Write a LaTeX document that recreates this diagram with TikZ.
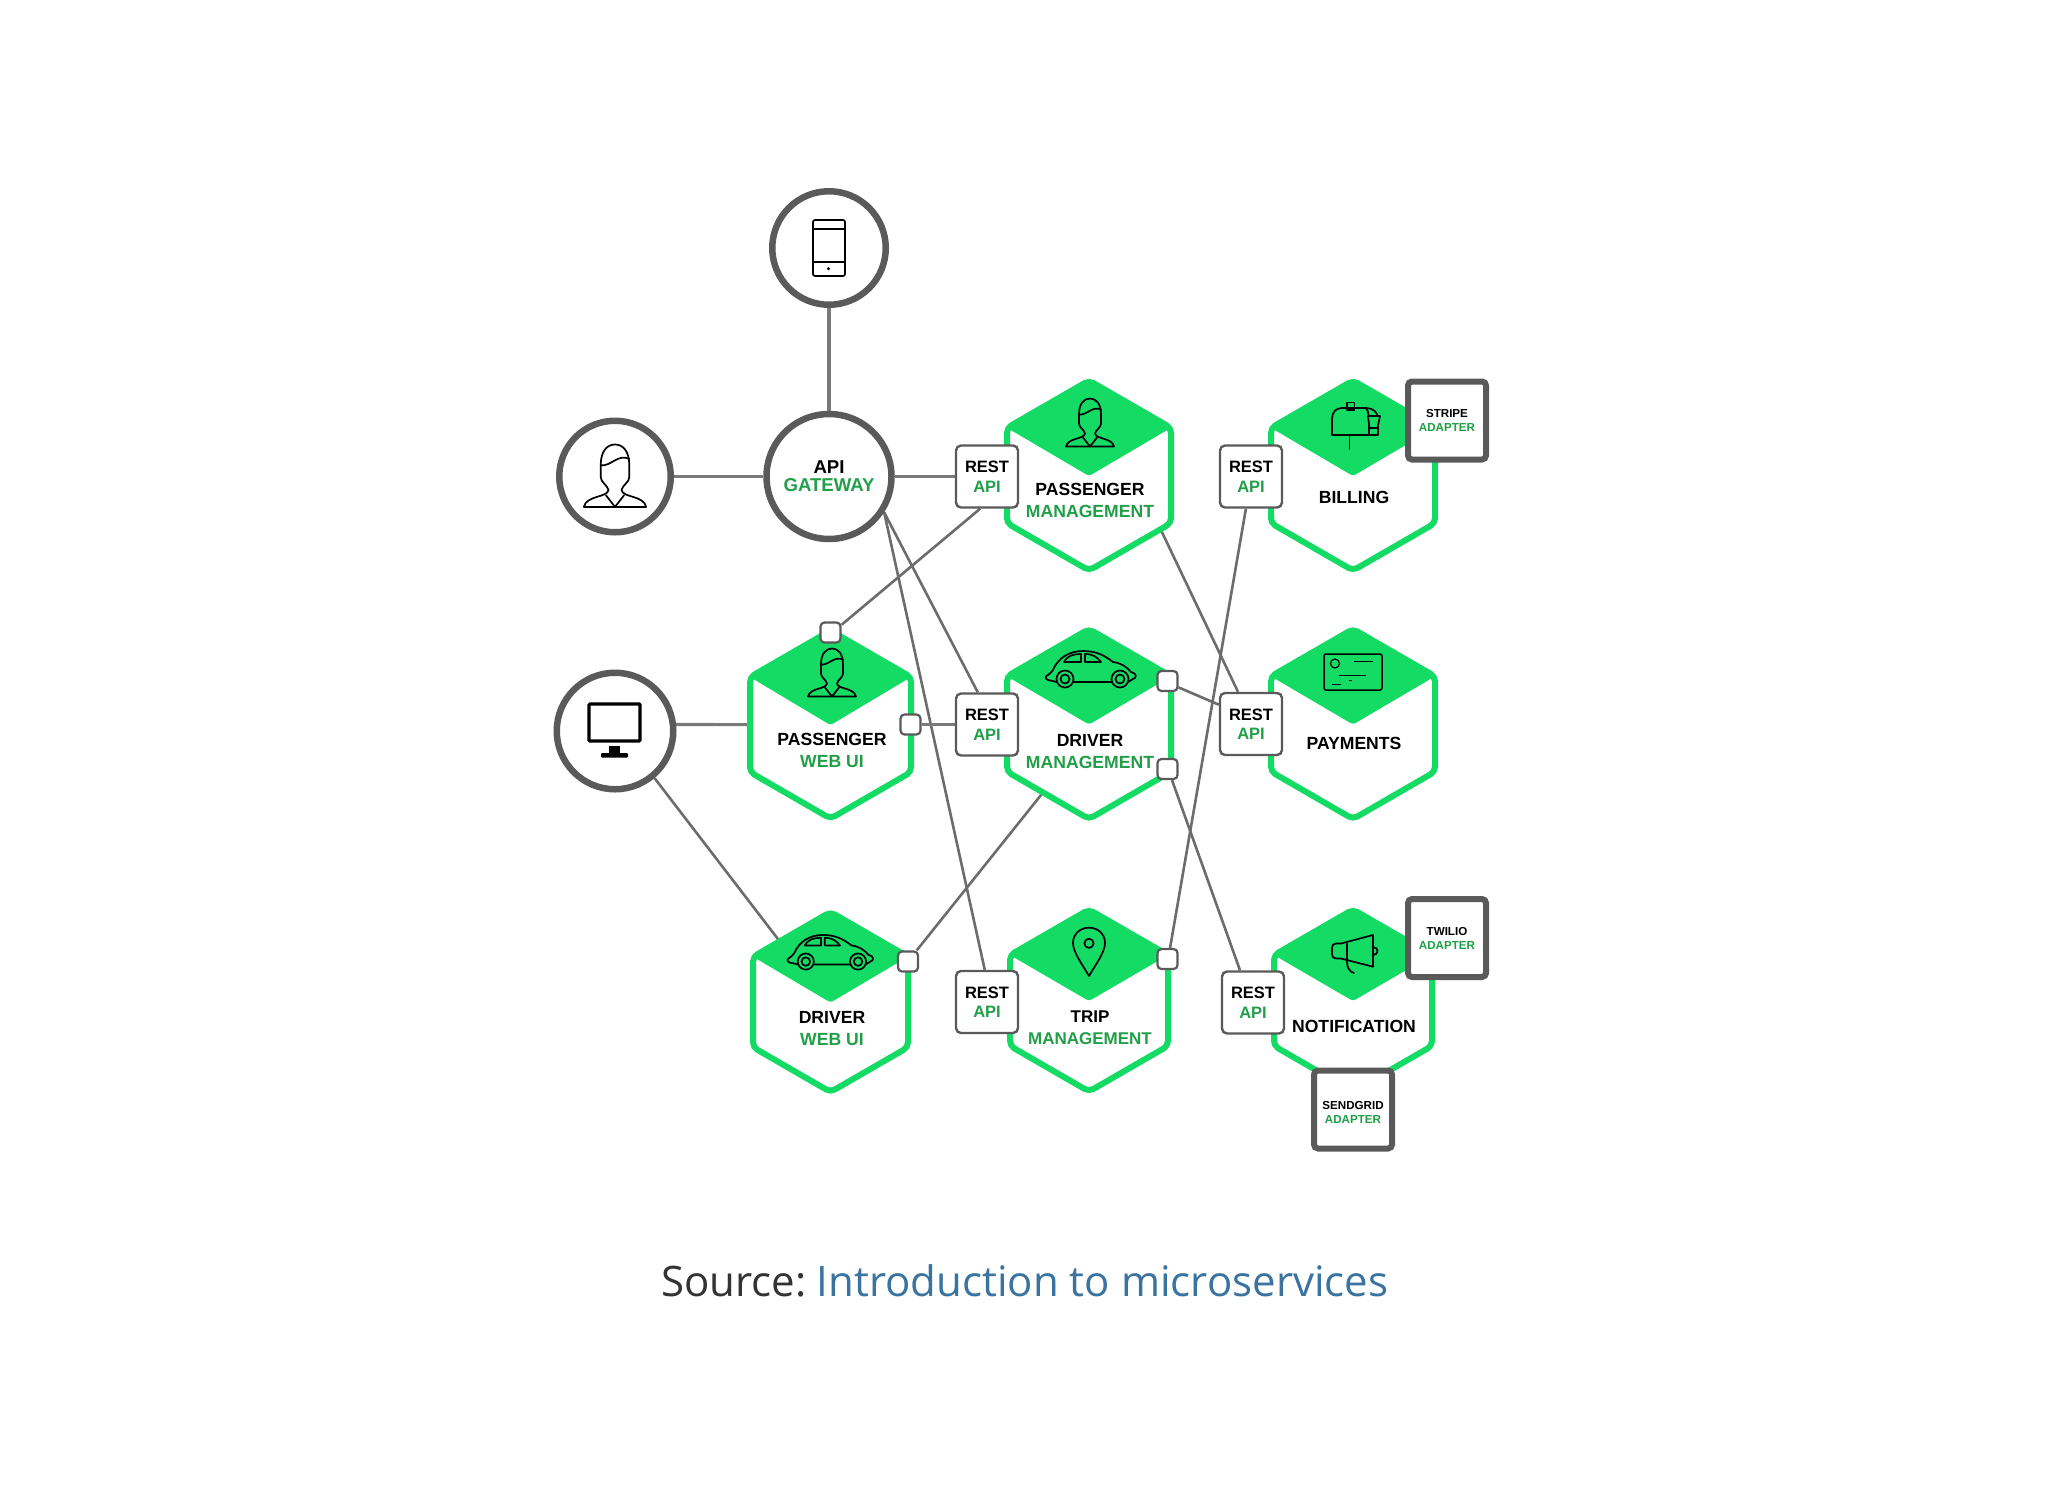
\documentclass[tikz,border=0pt]{standalone}
\usepackage{fontspec}
\setmainfont{Liberation Sans}
\newfontfamily\captionfont{Open Sans}
\usetikzlibrary{backgrounds,shapes.geometric}
\definecolor{hexgreen}{HTML}{14DB64}
\definecolor{labelgreen}{HTML}{209F48}
\definecolor{ringgray}{HTML}{5A5A5A}
\definecolor{wiregray}{HTML}{6C6C6C}
\definecolor{trunkgray}{HTML}{7A7A7A}
\definecolor{linkblue}{HTML}{3B73A0}
\definecolor{sourcegray}{HTML}{333333}
\tikzset{
  ring/.style={circle,draw=ringgray,line width=6.5pt,fill=white,inner sep=0pt},
  wire/.style={draw=wiregray,line width=2.6pt},
  trunk/.style={draw=trunkgray,line width=3.2pt},
  restbox/.style={rectangle,rounded corners=5pt,draw=ringgray,line width=2.4pt,fill=white,
    minimum width=62pt,minimum height=62pt,inner sep=0pt,align=center,
    font=\fontsize{16.5}{19.5}\selectfont\bfseries},
  portbox/.style={rectangle,rounded corners=4pt,draw=ringgray,line width=2.2pt,fill=white,
    minimum width=20pt,minimum height=20pt,inner sep=0pt},
  adapterbox/.style={rectangle,rounded corners=4pt,draw=ringgray,line width=6pt,fill=white,
    minimum width=78pt,minimum height=78pt,inner sep=0pt,align=center,
    font=\fontsize{11.6}{14}\selectfont\bfseries},
  hexlabel/.style={inner sep=0pt,align=center,font=\fontsize{17.6}{22}\selectfont\bfseries},
  hexframe/.style={rectangle,inner sep=0pt},
  icon/.style={draw=black,line width=1.7pt,line join=round,line cap=round}
}
\newcommand{\api}[1]{\textcolor{labelgreen}{#1}}
\newcommand{\servicehex}[5]{
  \filldraw[draw=hexgreen,fill=white,line width=6pt,rounded corners=5pt]
    (#2,#3-#5) -- (#2+#4,#3-#5+0.577*#4) -- (#2+#4,#3+#5-0.577*#4) -- (#2,#3+#5)
    -- (#2-#4,#3+#5-0.577*#4) -- (#2-#4,#3-#5+0.577*#4) -- cycle;
  \fill[hexgreen,rounded corners=3pt]
    (#2,#3-#5) -- (#2+#4,#3-#5+0.577*#4) -- (#2,#3+0.5) -- (#2-#4,#3-#5+0.577*#4) -- cycle;
  \node[hexframe,minimum width=2*#4 pt,minimum height=2*#5 pt] (#1) at (#2,#3) {};
}
\newcommand{\personicon}[3]{
  \begin{scope}[shift={(#1,#2)},scale=#3]
    \draw[icon] (-11,-9) .. controls (-11,-20) and (-6,-25) .. (0,-25)
      .. controls (6,-25) and (11,-20) .. (11,-9) -- (11,0)
      .. controls (11,4) and (6,6) .. (5,10) .. controls (6,16) and (22,14) .. (24,23)
      -- (-24,23) .. controls (-22,14) and (-6,16) .. (-5,10)
      .. controls (-6,6) and (-11,4) .. (-11,0) -- cycle;
    \draw[icon] (-11,-9) .. controls (-3,-8) and (2,-18) .. (11,-14);
    \draw[icon] (-7,14) -- (0,23) -- (7,14);
  \end{scope}
}
\newcommand{\caricon}[3]{
  \begin{scope}[shift={(#1,#2)},scale=#3]
    \draw[icon] (-34,12) -- (-43,10) .. controls (-46,9) and (-46,6) .. (-43,5)
      .. controls (-41,3) and (-39,2) .. (-38,0) .. controls (-33,-12) and (-22,-19) .. (-8,-19)
      .. controls (5,-19) and (13,-15) .. (22,-8) .. controls (30,-7) and (36,-3) .. (40,2)
      .. controls (46,3) and (46,8) .. (42,9) -- (37,12) -- cycle;
    \draw[icon] (-27,-8) .. controls (-25,-12) and (-21,-16) .. (-10,-16) -- (-10,-8) -- cycle;
    \draw[icon] (-6,-8) -- (-6,-16) .. controls (2,-16) and (6,-13) .. (10,-8) -- cycle;
    \filldraw[icon,fill=hexgreen] (-26,9) circle[radius=8.5];
    \draw[icon] (-26,9) circle[radius=4.5];
    \filldraw[icon,fill=hexgreen] (29,9) circle[radius=8.5];
    \draw[icon] (29,9) circle[radius=4.5];
  \end{scope}
}
\begin{document}
\begin{tikzpicture}[x=1pt,y=-1pt]
  \useasboundingbox (0,0) rectangle (2048,1492);
  \servicehex{pm}{1089}{475.5}{82}{95}
  \servicehex{bill}{1353}{475.5}{82}{95}
  \servicehex{dm}{1089}{724}{82}{95}
  \servicehex{pay}{1353}{724}{82}{95}
  \servicehex{pw}{830.5}{724.6}{80.5}{94}
  \servicehex{dw}{830.5}{1002}{77.5}{90}
  \servicehex{trip}{1089}{1000.5}{79}{91}
  \servicehex{notif}{1353}{1000.5}{79}{91}

  \node[ring,minimum size=113.5pt] (mobile) at (829,248) {};
  \node[ring,minimum size=125pt,align=center,font=\fontsize{18.6}{18}\selectfont\bfseries] (gateway) at (829,476.5) {API\\\api{GATEWAY}};
  \node[ring,minimum size=111.5pt] (user) at (615,476.5) {};
  \node[ring,minimum size=116.5pt] (desktop) at (615,731) {};

  \node[hexlabel] (pmtext) at (1090,500) {PASSENGER\\\api{MANAGEMENT}};
  \node[hexlabel] (billtext) at (1354,497) {BILLING};
  \node[hexlabel] (dmtext) at (1090,752) {DRIVER\\\api{MANAGEMENT}};
  \node[hexlabel] (paytext) at (1354,743) {PAYMENTS};
  \node[hexlabel] (pwtext) at (832,750) {PASSENGER\\\api{WEB UI}};
  \node[hexlabel] (dwtext) at (832,1029) {DRIVER\\\api{WEB UI}};
  \node[hexlabel,font=\fontsize{17}{22}\selectfont\bfseries] (triptext) at (1090,1028) {TRIP\\\api{MANAGEMENT}};
  \node[hexlabel] (notiftext) at (1354,1026) {NOTIFICATION};

  \node[restbox] (restpm) at (987,476.5) {REST\\\api{API}};
  \node[restbox] (restbill) at (1251,476.5) {REST\\\api{API}};
  \node[restbox] (restdm) at (987,724.5) {REST\\\api{API}};
  \node[restbox] (restpay) at (1251,724) {REST\\\api{API}};
  \node[restbox] (resttrip) at (987,1002) {REST\\\api{API}};
  \node[restbox] (restnotif) at (1253,1002.5) {REST\\\api{API}};

  \node[portbox] (pwtop) at (830.5,632.5) {};
  \node[portbox] (pwright) at (910.5,724.5) {};
  \node[portbox] (dwright) at (908,961.5) {};
  \node[portbox] (dmtop) at (1167.5,681) {};
  \node[portbox] (dmlow) at (1167.5,769) {};
  \node[portbox] (tripright) at (1167.5,959) {};

  \node[adapterbox] (stripe) at (1447,420.5) {STRIPE\\\api{ADAPTER}};
  \node[adapterbox] (twilio) at (1447,938) {TWILIO\\\api{ADAPTER}};
  \node[adapterbox] (sendgrid) at (1353,1109.5) {\rule{0pt}{13pt}SENDGRID\\\api{ADAPTER}};

  \coordinate (pmtail) at (1160,528);
  \coordinate (dmtail) at (1045,790);
  \coordinate (dwtail) at (781,943);

  \begin{scope}[on background layer]
    \draw[trunk] (mobile) -- (gateway);
    \draw[trunk] (user) -- (gateway);
    \draw[trunk] (gateway) -- (restpm);
    \draw[wire] (gateway.-33) -- (restdm.106);
    \draw[wire] (gateway.-33) -- (resttrip.94);
    \draw[wire] (restpm.-102) -- (pwtop.35);
    \draw[trunk] (desktop.6) -- (pw.west);
    \draw[wire] (desktop.-50) -- (dwtail);
    \draw[trunk] (pwright) -- (restdm);
    \draw[wire] (dwright.52) -- (dmtail);
    \draw[wire] (pmtail) -- (restpay.112);
    \draw[wire] (restbill.-99) -- (tripright.77);
    \draw[wire] (dmtop.-30) -- (restpay.149);
    \draw[wire] (dmlow.-68) -- (restnotif.112);
  \end{scope}

  \draw[icon,rounded corners=2pt] (813,220) rectangle (845,276);
  \draw[icon] (813,229) -- (845,229);
  \draw[icon] (813,262) -- (845,262);
  \fill[black] (828.5,268.7) circle[radius=1.6];

  \personicon{615}{477}{1.3}
  \personicon{1090}{423.5}{1}
  \personicon{832}{673.5}{1}

  \draw[black,line width=3.2pt,rounded corners=1pt] (589,704) rectangle (640,741);
  \fill[black] (609,746) rectangle (620,754);
  \fill[black,rounded corners=1pt] (601,753) rectangle (628,757.5);

  \caricon{1091}{670}{1}
  \caricon{830.5}{953}{0.95}

  \draw[icon] (1378,435) -- (1332,435) -- (1332,419)
    .. controls (1332,412) and (1336,408) .. (1342,408) -- (1366,408)
    .. controls (1373,408) and (1378,412) .. (1378,419) -- (1378,435) -- cycle;
  \draw[icon] (1366,408) .. controls (1369,412) and (1369,416) .. (1369,435);
  \draw[icon] (1349.5,435) -- (1349.5,449);
  \draw[icon] (1347,410) -- (1347,402.5) -- (1354.5,402.5) -- (1354.5,410) -- cycle;
  \filldraw[icon,fill=hexgreen] (1368,416) -- (1380,416) -- (1377.5,428) -- (1369.5,428) -- cycle;

  \draw[icon,line width=1.5pt,rounded corners=2pt] (1324,654) rectangle (1382,690);
  \draw[icon,line width=1.2pt] (1335,663.5) circle[radius=4.5];
  \draw[line width=0.8pt] (1354,661) -- (1373,661);
  \draw[line width=0.8pt] (1339,675) -- (1366,675);
  \draw[line width=0.8pt] (1349,680) -- (1352,680);
  \draw[line width=0.8pt] (1332,684) -- (1341,684);

  \draw[icon] (1089,976) .. controls (1082,964) and (1073,952) .. (1073,943)
    .. controls (1073,934) and (1080,927.7) .. (1089,927.7)
    .. controls (1098,927.7) and (1105,934) .. (1105,943)
    .. controls (1105,952) and (1096,964) .. (1089,976) -- cycle;
  \draw[icon] (1089,943.3) circle[radius=4.6];

  \draw[icon] (1341,943.5) -- (1373,935) -- (1373,966.7) -- (1341,958.5)
    -- (1336,958.5) .. controls (1333,958.5) and (1332,956.5) .. (1332,954) -- (1332,948)
    .. controls (1332,945.5) and (1333,943.5) .. (1336,943.5) -- cycle;
  \draw[icon] (1347,943.5) -- (1347,962) .. controls (1347,968) and (1350,972) .. (1354,973);
  \draw[icon] (1373,947) .. controls (1379,947) and (1379,955) .. (1373,955);

  \node[anchor=base west,inner sep=0pt,font=\captionfont\fontsize{42}{48}\selectfont,text=sourcegray] (source) at (661,1296) {Source:\hspace{-4pt} \textcolor{linkblue}{Introduction to microservices}};
\end{tikzpicture}
\end{document}
